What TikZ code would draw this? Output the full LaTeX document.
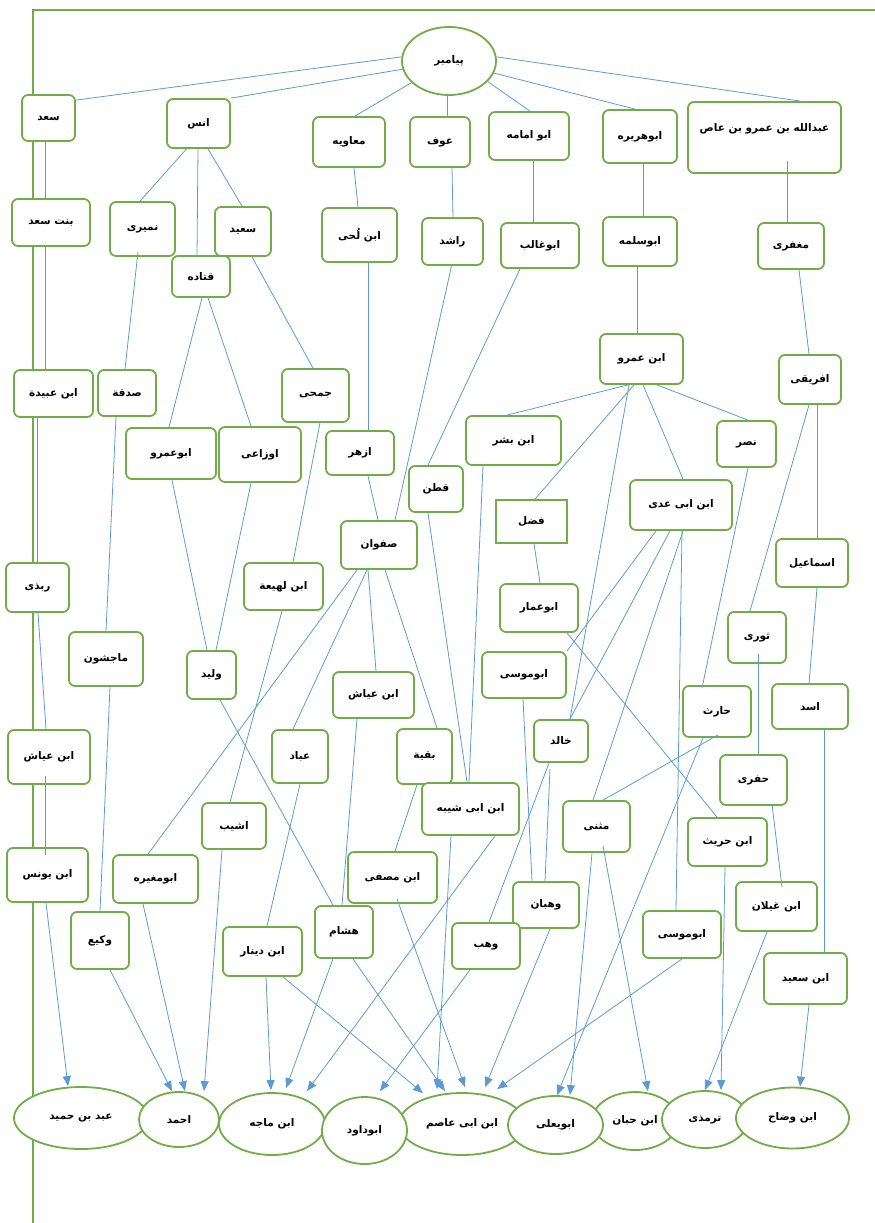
\documentclass[tikz,border=0pt]{standalone}
\usepackage{fontspec}
\usetikzlibrary{shapes.geometric,arrows.meta}
\newfontfamily\arabicfont[Script=Arabic]{DejaVu Sans}
\TeXXeTstate=1
\newcommand\RL[1]{\beginR#1\endR}
\definecolor{grn}{HTML}{70AD47}
\definecolor{blu}{HTML}{5B9BD5}
\tikzset{
  box/.style={draw=grn, line width=1.8pt, rounded corners=6pt, fill=white, inner sep=1pt,
    font=\arabicfont\bfseries\fontsize{10.5}{12}\selectfont},
  sqbox/.style={box, rounded corners=0pt},
  ell/.style={draw=grn, line width=1.8pt, ellipse, fill=white, inner sep=0pt,
    font=\arabicfont\bfseries\fontsize{10.5}{12}\selectfont},
  ln/.style={draw=blu, line width=0.8pt},
  arr/.style={ln, -{Triangle[length=10pt,width=8pt]}},
  frame/.style={draw=grn, line width=1.8pt}
}
\begin{document}
\begin{tikzpicture}[x=1pt,y=-1pt]
\useasboundingbox (0,0) rectangle (875,1223);
\draw[frame] (33,1223) -- (33,10) -- (875,10);
% top
\node[ell, minimum width=94pt, minimum height=68pt] (p) at (449,61) {\RL{پیامبر}};
\node[box, minimum width=53pt, minimum height=46pt] (saad) at (48.5,118) {\RL{سعد}};
\node[box, minimum width=63pt, minimum height=49pt] (anas) at (198.5,123.5) {\RL{انس}};
\node[box, minimum width=72pt, minimum height=50pt] (muaw) at (349,142) {\RL{معاویه}};
\node[box, minimum width=60pt, minimum height=50pt] (awf) at (440,142) {\RL{عوف}};
\node[box, minimum width=80pt, minimum height=48pt] (abuumama) at (529,136) {\RL{ابو امامه}};
\node[box, minimum width=74pt, minimum height=53pt] (abuhur) at (640,136.5) {\RL{ابوهریره}};
\node[box, minimum width=153pt, minimum height=71pt, text height=8pt, text depth=20pt] (abd) at (764.5,137.5) {\RL{عبدالله بن عمرو بن عاص}};
\node[box, minimum width=78pt, minimum height=47pt] (bint) at (51,222.5) {\RL{بنت سعد}};
\node[box, minimum width=65pt, minimum height=54pt] (numayri) at (142.5,229) {\RL{نمیری}};
\node[box, minimum width=56pt, minimum height=49pt] (saeed) at (243,231.5) {\RL{سعید}};
\node[box, minimum width=58pt, minimum height=41pt] (qatada) at (201,276.5) {\RL{قتاده}};
\node[box, minimum width=75pt, minimum height=54pt] (ibnluhay) at (359.5,235) {\RL{ابن لُحی}};
\node[box, minimum width=61pt, minimum height=47pt] (rashid) at (452.5,241.5) {\RL{راشد}};
\node[box, minimum width=78pt, minimum height=45pt] (abughalib) at (540,245.5) {\RL{ابوغالب}};
\node[box, minimum width=74pt, minimum height=49pt] (abusalama) at (640,241.5) {\RL{ابوسلمه}};
\node[box, minimum width=66pt, minimum height=46pt] (mughafiri) at (791,246) {\RL{مغفری}};
% middle
\node[box, minimum width=79pt, minimum height=47pt] (ibnubayda) at (53.5,393.5) {\RL{ابن عبیدة}};
\node[box, minimum width=58pt, minimum height=46pt] (sadaqa) at (127,393) {\RL{صدقة}};
\node[box, minimum width=67pt, minimum height=53pt] (jumahi) at (315.5,395.5) {\RL{جمحی}};
\node[box, minimum width=90pt, minimum height=51pt] (abuamr) at (171,453.5) {\RL{ابوعمرو}};
\node[box, minimum width=82pt, minimum height=55pt] (awzai) at (260,454.5) {\RL{اوزاعی}};
\node[box, minimum width=68pt, minimum height=44pt] (azhar) at (360,453) {\RL{ازهر}};
\node[box, minimum width=54pt, minimum height=46pt] (qatan) at (436,489) {\RL{قطن}};
\node[box, minimum width=76pt, minimum height=48pt] (safwan) at (379,545) {\RL{صفوان}};
\node[box, minimum width=79pt, minimum height=47pt] (ibnlahia) at (283.5,586.5) {\RL{ابن لهیعة}};
\node[box, minimum width=63pt, minimum height=49pt] (rabadhi) at (37.5,587.5) {\RL{ربذی}};
\node[box, minimum width=83pt, minimum height=50pt] (ibnamr) at (641.5,359) {\RL{ابن عمرو}};
\node[box, minimum width=62pt, minimum height=49pt] (ifriqi) at (810,379.5) {\RL{افریقی}};
\node[box, minimum width=95pt, minimum height=49pt] (ibnbishr) at (513.5,440.5) {\RL{ابن بشر}};
\node[box, minimum width=59pt, minimum height=46pt] (nasr) at (746.5,444) {\RL{نصر}};
\node[sqbox, minimum width=71pt, minimum height=43pt] (fadl) at (531.5,521.5) {\RL{فضل}};
\node[box, minimum width=102pt, minimum height=50pt] (ibnabiadi) at (681,505) {\RL{ابن ابی عدی}};
\node[box, minimum width=72pt, minimum height=48pt] (ismail) at (812,563) {\RL{اسماعیل}};
\node[box, minimum width=78pt, minimum height=48pt] (abuammar) at (539,608) {\RL{ابوعمار}};
\node[box, minimum width=74pt, minimum height=54pt] (majishun) at (106,659) {\RL{ماجشون}};
\node[box, minimum width=49pt, minimum height=48pt] (walid) at (211.5,675) {\RL{ولید}};
\node[box, minimum width=81pt, minimum height=46pt] (ibnayyash2) at (373.5,695) {\RL{ابن عیاش}};
\node[box, minimum width=58pt, minimum height=51pt] (thawri) at (757,637.5) {\RL{ثوری}};
\node[box, minimum width=84pt, minimum height=46pt] (abumusa1) at (524,675) {\RL{ابوموسی}};
\node[box, minimum width=68pt, minimum height=51pt] (harith) at (717,711.5) {\RL{حارث}};
\node[box, minimum width=76pt, minimum height=45pt] (asad) at (810,706.5) {\RL{اسد}};
\node[box, minimum width=54pt, minimum height=42pt] (khalid) at (561,741) {\RL{خالد}};
\node[box, minimum width=82pt, minimum height=54pt] (ibnayyash1) at (49,757) {\RL{ابن عیاش}};
\node[box, minimum width=56pt, minimum height=53pt] (abbad) at (300,756.5) {\RL{عباد}};
\node[box, minimum width=55pt, minimum height=55pt] (baqiyya) at (424.5,756.5) {\RL{بقیة}};
\node[box, minimum width=67pt, minimum height=50pt] (hufri) at (753.5,780) {\RL{حفری}};
\node[box, minimum width=97pt, minimum height=52pt] (ibnabishayba) at (470.5,809) {\RL{ابن ابی شیبه}};
\node[box, minimum width=64pt, minimum height=46pt] (ashyab) at (234,826) {\RL{اشیب}};
\node[box, minimum width=67pt, minimum height=51pt] (muthanna) at (596.5,826.5) {\RL{مثنی}};
\node[box, minimum width=79pt, minimum height=48pt] (ibnhurayth) at (727.5,842) {\RL{ابن حریث}};
\node[box, minimum width=81pt, minimum height=54pt] (ibnyunus) at (47.5,875) {\RL{ابن یونس}};
\node[box, minimum width=85pt, minimum height=48pt] (abumughira) at (155.5,879) {\RL{ابومغیره}};
\node[box, minimum width=89pt, minimum height=51pt] (ibnmusaffa) at (392.5,877.5) {\RL{ابن مصفی}};
\node[box, minimum width=81pt, minimum height=49pt] (ibnghaylan) at (776.5,906.5) {\RL{ابن غیلان}};
\node[box, minimum width=66pt, minimum height=46pt] (wahban) at (546,905) {\RL{وهبان}};
\node[box, minimum width=58pt, minimum height=57pt] (waki) at (100,940.5) {\RL{وکیع}};
\node[box, minimum width=58pt, minimum height=52pt] (hisham) at (344,932) {\RL{هشام}};
\node[box, minimum width=79pt, minimum height=49pt] (ibndinar) at (262.5,951.5) {\RL{ابن دینار}};
\node[box, minimum width=68pt, minimum height=46pt] (wahb) at (486,946) {\RL{وهب}};
\node[box, minimum width=78pt, minimum height=47pt] (abumusa2) at (682,934.5) {\RL{ابوموسی}};
\node[box, minimum width=83pt, minimum height=51pt] (ibnsaid) at (805.5,978.5) {\RL{ابن سعید}};
% bottom ellipses
\node[ell, minimum width=134pt, minimum height=62pt] (abdhumayd) at (81,1118) {\RL{عبد بن حمید}};
\node[ell, minimum width=80pt, minimum height=55pt] (ahmad) at (179,1119.5) {\RL{احمد}};
\node[ell, minimum width=106pt, minimum height=62pt] (ibnmaja) at (272,1124) {\RL{ابن ماجه}};
\node[ell, minimum width=126pt, minimum height=62pt] (ibnabiasim) at (462,1124) {\RL{ابن ابی عاصم}};
\node[ell, minimum width=85pt, minimum height=67pt] (abudawud) at (364.5,1130.5) {\RL{ابوداود}};
\node[ell, minimum width=86pt, minimum height=58pt] (ibnhibban) at (635,1121) {\RL{ابن حبان}};
\node[ell, minimum width=95pt, minimum height=58pt] (abuyala) at (555.5,1125) {\RL{ابویعلی}};
\node[ell, minimum width=86pt, minimum height=57pt] (tirmidhi) at (705,1119.5) {\RL{ترمذی}};
\node[ell, minimum width=113pt, minimum height=61pt] (ibnwaddah) at (792.5,1118) {\RL{ابن وضاح}};
% connectors
\draw[ln] (p.175) -- ([yshift=-6pt]saad.north east);
\draw[ln] (p.190) -- (anas.north east);
\draw[ln] (p.210) -- ([xshift=6pt]muaw.north);
\draw[ln] ([xshift=-2pt]p.south) -- ([xshift=7pt]awf.north);
\draw[ln] (p.-28) -- ([xshift=1pt]abuumama.north);
\draw[ln] (p.-15) -- ([xshift=-5pt]abuhur.north);
\draw[ln] (p.5) -- ([xshift=36pt]abd.north);
\draw[ln] ([xshift=-12pt]anas.south) -- ([xshift=-2.5pt]numayri.north);
\draw[ln] ([xshift=-0.5pt]anas.south) -- ([xshift=-4pt]qatada.north);
\draw[ln] ([xshift=9.5pt]anas.south) -- ([xshift=-1pt]saeed.north);
\draw[ln] ([xshift=-3.5pt]saad.south) -- ([xshift=-6pt]bint.north);
\draw[ln] ([xshift=-6pt]bint.south) -- ([xshift=-8.5pt]ibnubayda.north);
\draw[ln] ([xshift=-16.5pt]ibnubayda.south) -- ([xshift=-0.5pt]rabadhi.north);
\draw[ln] ([xshift=0.5pt]rabadhi.south) -- ([xshift=-3pt]ibnayyash1.north);
\draw[ln] ([xshift=-4pt,yshift=9pt]ibnayyash1.south) -- ([xshift=-2.5pt,yshift=-8pt]ibnyunus.north);
\draw[arr] ([xshift=-1.5pt]ibnyunus.south) -- ([xshift=-13pt]abdhumayd.north);
\draw[ln] ([xshift=-4.5pt,yshift=5pt]numayri.south) -- ([xshift=-2pt]sadaqa.north);
\draw[ln] ([xshift=-11pt]sadaqa.south) -- (majishun.north);
\draw[ln] ([xshift=4pt]majishun.south) -- (waki.north);
\draw[arr] ([xshift=10pt]waki.south) -- ([xshift=-7pt]ahmad.north);
\draw[ln] ([xshift=1pt]qatada.south) -- ([xshift=-2pt]abuamr.north);
\draw[ln] ([xshift=7pt]qatada.south) -- ([xshift=-9pt]awzai.north);
\draw[ln] ([xshift=1pt]abuamr.south) -- ([xshift=-4.5pt]walid.north);
\draw[ln] ([xshift=-9pt]awzai.south) -- ([xshift=4.5pt]walid.north);
\draw[ln] ([xshift=8.5pt]walid.south) -- ([xshift=-11pt]hisham.north);
\draw[ln] ([xshift=9pt]saeed.south) -- ([xshift=-2.5pt]jumahi.north);
\draw[ln] ([xshift=4.5pt]jumahi.south) -- ([xshift=9.5pt]ibnlahia.north);
\draw[ln] ([xshift=-1.5pt]ibnlahia.south) -- ([xshift=-4pt]ashyab.north);
\draw[arr] ([xshift=-12pt]ashyab.south) -- ([xshift=25pt]ahmad.north);
\draw[arr] ([xshift=-12.5pt]abumughira.south) -- ([xshift=6pt]ahmad.north);
\draw[ln] ([xshift=5pt]muaw.south) -- ([xshift=-1.5pt]ibnluhay.north);
\draw[ln] ([xshift=8.5pt]ibnluhay.south) -- ([xshift=8pt]azhar.north);
\draw[ln] ([xshift=8pt]azhar.south) -- ([xshift=-1pt]safwan.north);
\draw[ln] ([xshift=-22pt]safwan.south) -- ([xshift=-7.5pt]abumughira.north);
\draw[ln] ([xshift=-12pt]safwan.south) -- ([xshift=-7pt]abbad.north);
\draw[ln] ([xshift=-11pt]safwan.south) -- ([xshift=2.5pt]ibnayyash2.north);
\draw[ln] ([xshift=6pt]safwan.south) -- ([xshift=12.5pt]baqiyya.north);
\draw[ln] ([xshift=12pt]awf.south) -- ([xshift=0.5pt]rashid.north);
\draw[ln] ([xshift=-1pt]rashid.south) -- ([xshift=16pt]safwan.north);
\draw[ln] ([xshift=4pt]abuumama.south) -- ([xshift=-7pt]abughalib.north);
\draw[ln] ([xshift=-20pt]abughalib.south) -- ([xshift=-8pt]qatan.north);
\draw[ln] ([xshift=-8pt]qatan.south) -- ([xshift=-3.5pt]ibnabishayba.north);
\draw[ln] ([xshift=3pt]abuhur.south) -- ([xshift=3pt]abusalama.north);
\draw[ln] ([xshift=-3pt]abusalama.south) -- ([xshift=-4.5pt]ibnamr.north);
\draw[ln] ([xshift=22.5pt,yshift=13pt]abd.south) -- ([xshift=-4pt]mughafiri.north);
\draw[ln] ([xshift=8pt]mughafiri.south) -- ([xshift=-1pt]ifriqi.north);
\draw[ln] ([xshift=-1pt]ifriqi.south) -- ([xshift=-7pt]thawri.north);
\draw[ln] ([xshift=7pt]ifriqi.south) -- ([xshift=5pt]ismail.north);
\draw[ln] ([xshift=5pt]ismail.south) -- ([xshift=-1pt]asad.north);
\draw[ln] ([xshift=14pt]asad.south) -- ([xshift=18.5pt]ibnsaid.north);
\draw[arr] ([xshift=3.5pt]ibnsaid.south) -- ([xshift=7.5pt]ibnwaddah.north);
\draw[ln] ([xshift=-13.5pt]ibnamr.south) -- ([xshift=-6.5pt]ibnbishr.north);
\draw[ln] ([xshift=-7.5pt]ibnamr.south) -- ([xshift=3.5pt]fadl.north);
\draw[ln] ([xshift=-12.5pt]ibnamr.south) -- ([xshift=9pt]khalid.north);
\draw[ln] ([xshift=1.5pt]ibnamr.south) -- ([xshift=2pt]ibnabiadi.north);
\draw[ln] ([xshift=15.5pt]ibnamr.south) -- ([xshift=1.5pt]nasr.north);
\draw[ln] ([xshift=-30.5pt]ibnbishr.south) -- ([xshift=-1.5pt]ibnabishayba.north);
\draw[ln] ([xshift=2.5pt]fadl.south) -- ([xshift=1pt]abuammar.north);
\draw[ln] ([xshift=28pt]abuammar.south) -- ([xshift=-10.5pt]ibnhurayth.north);
\draw[ln] ([xshift=-25pt]ibnabiadi.south) -- (abumusa1.north east);
\draw[ln] ([xshift=-11pt]ibnabiadi.south) -- ([xshift=9pt]khalid.north);
\draw[ln] ([xshift=2pt]ibnabiadi.south) -- ([xshift=-3.5pt]muthanna.north);
\draw[ln] ([xshift=1pt]ibnabiadi.south) -- ([xshift=-6pt]abumusa2.north);
\draw[ln] ([xshift=1.5pt]nasr.south) -- ([xshift=-15pt,yshift=-3pt]harith.north);
\draw[ln] ([xshift=1pt,yshift=3pt]harith.south) -- ([xshift=6.5pt]muthanna.north);
\draw[arr] ([xshift=-14pt]harith.south) -- ([xshift=1.5pt]abuyala.north);
\draw[ln] ([xshift=1pt,yshift=10pt]thawri.south) -- ([xshift=4.5pt]hufri.north);
\draw[ln] ([xshift=18.5pt,yshift=2pt]hufri.south) -- ([xshift=5.5pt,yshift=-6pt]ibnghaylan.north);
\draw[arr] ([xshift=-9.5pt]ibnghaylan.south) -- (tirmidhi.north);
\draw[arr] ([xshift=-2.5pt]ibnhurayth.south) -- ([xshift=16pt]tirmidhi.north);
\draw[arr] ([xshift=-4.5pt]muthanna.south) -- ([xshift=14.5pt]abuyala.north);
\draw[arr] ([xshift=6.5pt,yshift=7pt]muthanna.south) -- ([xshift=13pt]ibnhibban.north);
\draw[arr] (abumusa2.south) -- ([xshift=35pt,yshift=3pt]ibnabiasim.north);
\draw[arr] ([xshift=4pt]wahban.south) -- ([xshift=23pt,yshift=5pt]ibnabiasim.north);
\draw[arr] ([xshift=-19.5pt]ibnabishayba.south) -- ([xshift=-25pt,yshift=3pt]ibnabiasim.north);
\draw[arr] ([xshift=24.5pt]ibnabishayba.south) -- ([xshift=35pt,yshift=1pt]ibnmaja.north);
\draw[arr] ([xshift=4.5pt,yshift=5pt]ibnmusaffa.south) -- ([xshift=3pt,yshift=5pt]ibnabiasim.north);
\draw[arr] ([xshift=-11pt]hisham.south) -- ([xshift=14pt,yshift=4pt]ibnmaja.north);
\draw[arr] ([xshift=9pt]hisham.south) -- ([xshift=-17pt,yshift=1pt]ibnabiasim.north);
\draw[arr] ([xshift=3.5pt]ibndinar.south) -- ([xshift=-1pt,yshift=2pt]ibnmaja.north);
\draw[arr] ([xshift=20.5pt]ibndinar.south) -- ([xshift=-39pt,yshift=-1pt]ibnabiasim.north);
\draw[arr] ([xshift=-16pt]wahb.south) -- ([xshift=15.5pt,yshift=5pt]abudawud.north);
\draw[ln] ([xshift=-12pt]khalid.south) -- ([xshift=3pt]wahb.north);
\draw[ln] ([xshift=-11pt,yshift=-6pt]khalid.south) -- ([xshift=-1pt]wahban.north);
\draw[ln] ([xshift=-1pt]abumusa1.south) -- ([xshift=-14pt]wahban.north);
\draw[ln] ([xshift=-16.5pt]ibnayyash2.south) -- ([xshift=-2pt]hisham.north);
\draw[ln] (abbad.south) -- ([xshift=4.5pt]ibndinar.north);
\draw[ln] ([xshift=-7.5pt]baqiyya.south) -- ([xshift=2.5pt]ibnmusaffa.north);
\end{tikzpicture}
\end{document}
